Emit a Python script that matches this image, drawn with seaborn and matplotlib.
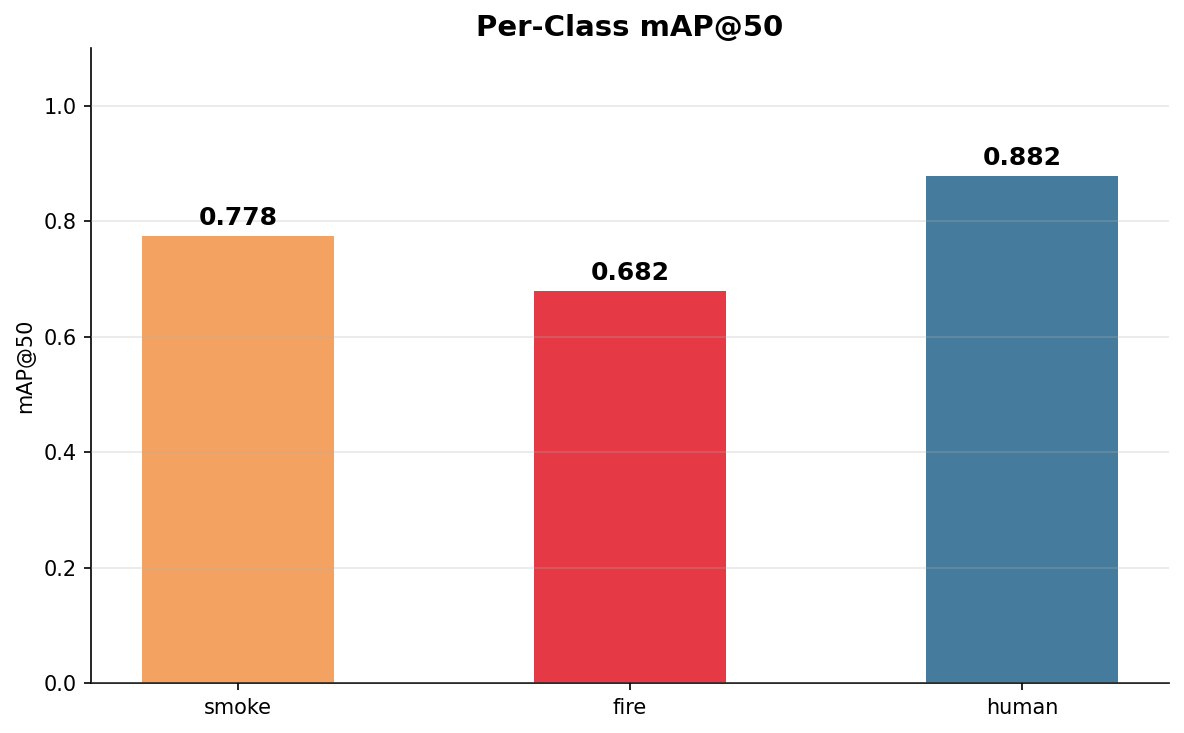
import matplotlib
matplotlib.use("Agg")
import matplotlib.pyplot as plt
import pandas as pd
import seaborn as sns

classes = ["smoke", "fire", "human"]
# heights as drawn by the bars
map50 = [0.774, 0.679, 0.878]
# value text printed above each bar
map50_labels = ["0.778", "0.682", "0.882"]
colors = ["#F4A261", "#E63946", "#457B9D"]

df = pd.DataFrame({"cls": classes, "map50": map50})

fig = plt.figure(figsize=(1184 / 150, 733 / 150), dpi=150)
ax = fig.add_axes([91 / 1184, 1 - 683 / 733, 1078 / 1184, 635 / 733])

sns.barplot(data=df, x="cls", y="map50", hue="cls", palette=colors,
            width=0.49, legend=False, saturation=1, ax=ax)

for i, (h, txt) in enumerate(zip(map50, map50_labels)):
    ax.text(i, h + 0.01, txt, ha="center", va="bottom",
            fontsize=12, fontweight="bold")

ax.set_xlim(-0.375, 2.375)
ax.set_ylim(0, 1.1)
ax.set_title("Per-Class mAP@50", fontsize=14, fontweight="bold")
ax.set_ylabel("mAP@50", fontsize=10)
ax.set_xlabel("")
ax.tick_params(labelsize=10)
ax.set_axisbelow(False)
ax.yaxis.grid(True, alpha=0.3)
ax.spines["top"].set_visible(False)
ax.spines["right"].set_visible(False)

fig.savefig("out.png", dpi=150)
